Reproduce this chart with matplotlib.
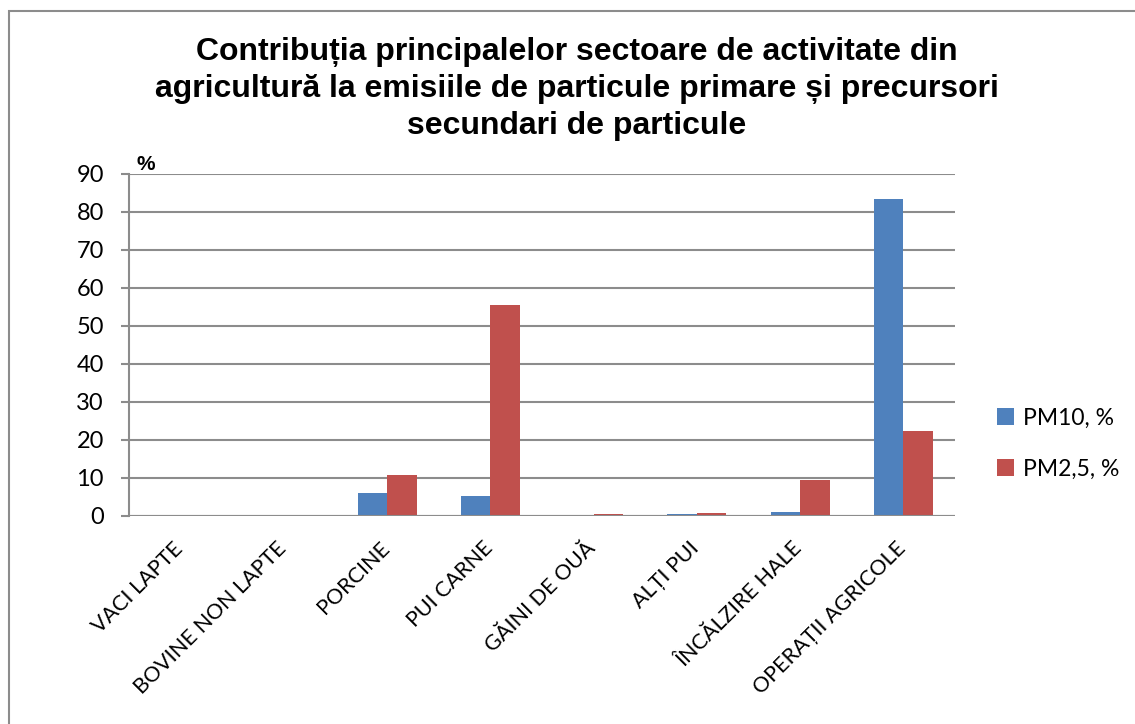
import numpy as np
import matplotlib
matplotlib.use("Agg")
import matplotlib.pyplot as plt
import matplotlib.transforms as mtransforms
from matplotlib.patches import Rectangle

categories = ["VACI LAPTE", "BOVINE NON LAPTE", "PORCINE", "PUI CARNE",
              "GĂINI DE OUĂ", "ALȚI PUI", "ÎNCĂLZIRE HALE", "OPERAȚII AGRICOLE"]
pm10 = [0, 0, 6.0, 5.3, 0.3, 0.5, 1.0, 83.4]
pm25 = [0, 0, 10.8, 55.4, 0.4, 0.8, 9.5, 22.4]
yticks = [0, 10, 20, 30, 40, 50, 60, 70, 80, 90]

blue = "#4f81bd"
red = "#c0504d"
grid = "#8c8c8c"

fig = plt.figure(figsize=(11.35, 7.24), dpi=100)
ax = fig.add_axes([129 / 1135, 1 - 516 / 724, 826 / 1135, 342 / 724])

x = np.arange(len(categories))
w = 0.285
ax.bar(x - w / 2, pm10, w, color=blue, label="PM10, %", zorder=3)
ax.bar(x + w / 2, pm25, w, color=red, label="PM2,5, %", zorder=3)

ax.set_xlim(-0.5, len(categories) - 0.5)
ax.set_ylim(0, 90)
ax.set_yticks(yticks)
ax.yaxis.grid(True, color=grid, linewidth=1.5, zorder=0)
ax.set_axisbelow(True)
for s in ["top", "right", "bottom"]:
    ax.spines[s].set_visible(False)
ax.spines["left"].set_color(grid)
ax.spines["left"].set_linewidth(1.5)
ax.axhline(0, color=grid, linewidth=1.5, zorder=4)
ax.tick_params(axis="y", length=6, width=1.5, color=grid, labelsize=17, pad=12)
ax.tick_params(axis="x", length=0, pad=16)
for t in ax.get_yticklabels():
    t.set_fontfamily("Lato")

ax.set_xticks(x)
ax.set_xticklabels(categories, rotation=45, ha="right", va="top",
                   rotation_mode="anchor", fontsize=15.5, family="Lato")
# nudge the slanted labels a little to the left
shift = mtransforms.ScaledTranslation(-8 / 100, 0, fig.dpi_scale_trans)
for t in ax.get_xticklabels():
    t.set_transform(t.get_transform() + shift)

ax.text(0.009, 1.0, "%", transform=ax.transAxes, fontsize=15,
        fontweight="bold", family="Liberation Sans", va="bottom", ha="left")

fig.text(577 / 1135, 1 - 37 / 724,
         "Contribuția principalelor sectoare de activitate din\n"
         "agricultură la emisiile de particule primare și precursori\n"
         "secundari de particule",
         ha="center", va="top", fontsize=23, fontweight="bold",
         family="Liberation Sans", linespacing=1.3)

leg = fig.legend(loc="upper left", bbox_to_anchor=(976 / 1135, 1 - 387 / 724),
                 frameon=False, prop={"family": "Lato", "size": 16.5},
                 handlelength=0.75, handleheight=0.75, handletextpad=0.4,
                 labelspacing=1.3)

# outer chart border
fig.patches.append(Rectangle((9 / 1135, -0.05), 1.2, 1 - 11 / 724 + 0.05,
                             transform=fig.transFigure, fill=False,
                             edgecolor="#8c8c8c", linewidth=1.5))

fig.savefig("out.png", dpi=100)
